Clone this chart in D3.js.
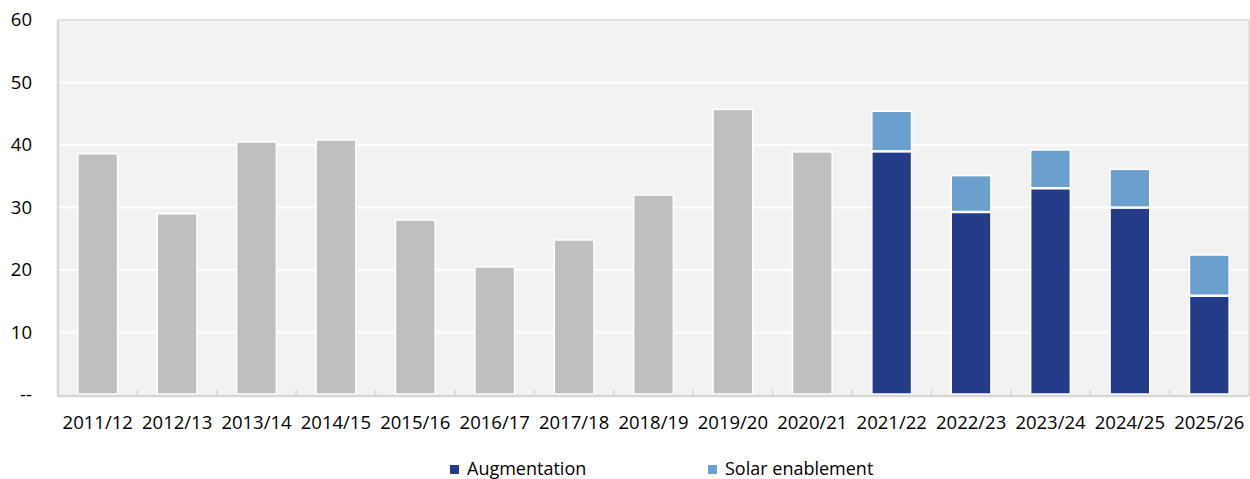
<!DOCTYPE html>
<html>
<head>
<meta charset="utf-8">
<script src="https://cdn.jsdelivr.net/npm/d3@7"></script>
<style>
  html, body { margin: 0; padding: 0; background: #ffffff; }
  svg { display: block; font-family: "Open Sans", "Noto Sans", sans-serif; }
</style>
</head>
<body>
<svg id="chart" width="1250" height="479"></svg>
<script>
// Financial years on the category axis
const years = ["2011/12", "2012/13", "2013/14", "2014/15", "2015/16", "2016/17", "2017/18",
  "2018/19", "2019/20", "2020/21", "2021/22", "2022/23", "2023/24", "2024/25", "2025/26"];

// Actual totals (grey) for past years
const actual = [38.6, 29.0, 40.5, 40.8, 28.0, 20.5, 24.8, 32.0, 45.7, 38.9, 0, 0, 0, 0, 0];
// Forecast components
const augmentation = [0, 0, 0, 0, 0, 0, 0, 0, 0, 0, 38.9, 29.2, 33.0, 29.9, 15.8];
const solarEnablement = [0, 0, 0, 0, 0, 0, 0, 0, 0, 0, 6.5, 5.9, 6.2, 6.2, 6.6];

const yTicks = [0, 10, 20, 30, 40, 50, 60];
const yTickLabels = ["--", "10", "20", "30", "40", "50", "60"];

const legendItems = [
  { key: "augmentation", label: "Augmentation" },
  { key: "solar", label: "Solar enablement" }
];

const colors = { actual: "#bfbfbf", augmentation: "#243b87", solar: "#6a9fce" };

const rows = years.map((y, i) => ({
  year: y, actual: actual[i], augmentation: augmentation[i], solar: solarEnablement[i]
}));

const svg = d3.select("#chart");
const plot = { left: 58, right: 1249, top: 20, bottom: 395 };

const x = d3.scaleBand().domain(years).range([plot.left, plot.right])
  .paddingInner(0.5).paddingOuter(0.25);
const y = d3.scaleLinear().domain([0, 60]).range([plot.bottom, plot.top]);

// Plot background
svg.append("rect")
  .attr("x", plot.left).attr("y", plot.top)
  .attr("width", plot.right - plot.left).attr("height", plot.bottom - plot.top)
  .attr("fill", "#f2f2f2");

// Horizontal gridlines
svg.append("g").selectAll("line").data(yTicks.filter(t => t > 0 && t < 60)).join("line")
  .attr("x1", plot.left).attr("x2", plot.right)
  .attr("y1", d => y(d)).attr("y2", d => y(d))
  .attr("stroke", "#ffffff").attr("stroke-width", 2);

// Category boundary ticks along the bottom
const bounds = years.slice(1).map(yr => x(yr) - x.step() * x.paddingInner() / 2);
svg.append("g").selectAll("line").data(bounds).join("line")
  .attr("x1", d => d).attr("x2", d => d)
  .attr("y1", plot.bottom).attr("y2", plot.bottom - 5)
  .attr("stroke", "#d4d4d4").attr("stroke-width", 1.5);

// Stacked bars
const stack = d3.stack().keys(["actual", "augmentation", "solar"]);
const series = stack(rows);
svg.append("g").selectAll("g").data(series).join("g")
  .attr("fill", d => colors[d.key])
  .selectAll("rect").data(d => d.filter(p => p[1] - p[0] > 0)).join("rect")
  .attr("x", d => x(d.data.year))
  .attr("width", x.bandwidth())
  .attr("y", d => y(d[1]))
  .attr("height", d => y(d[0]) - y(d[1]) - 1)
  .attr("stroke", "#ffffff").attr("stroke-width", 1.5);

// Frame: light top/right, heavier left and bottom axis lines
const frame = svg.append("g").attr("fill", "none");
frame.append("path")
  .attr("d", `M${plot.left},${plot.top}H${plot.right}V${plot.bottom + 1}`)
  .attr("stroke", "#e2e2e2").attr("stroke-width", 2);
frame.append("path")
  .attr("d", `M${plot.left},${plot.top}V${plot.bottom + 1}H${plot.right}`)
  .attr("stroke", "#d6d6d6").attr("stroke-width", 2.5);

// Y axis labels
const yAxis = d3.axisLeft(y).tickValues(yTicks)
  .tickFormat((d, i) => yTickLabels[i]).tickSize(0).tickPadding(0);
const gy = svg.append("g").attr("transform", "translate(32,0)").call(yAxis);
gy.select(".domain").remove();
gy.selectAll("text").attr("font-size", 18.5).attr("fill", "#000").attr("font-family", "Open Sans");

// X axis labels
const xAxis = d3.axisBottom(x).tickSize(0).tickPadding(0);
const gx = svg.append("g").attr("transform", "translate(0,416)").call(xAxis);
gx.select(".domain").remove();
gx.selectAll("text").attr("font-size", 18.5).attr("fill", "#000")
  .attr("font-family", "Open Sans").attr("dy", "0.71em");

// Legend
const legendX = [450, 708];
const lg = svg.append("g").selectAll("g").data(legendItems).join("g")
  .attr("transform", (d, i) => `translate(${legendX[i]},465)`);
lg.append("rect").attr("width", 9).attr("height", 9).attr("fill", d => colors[d.key]);
lg.append("text").attr("x", 17).attr("y", 9.5)
  .attr("font-size", 18).attr("fill", "#000").text(d => d.label);
</script>
</body>
</html>
